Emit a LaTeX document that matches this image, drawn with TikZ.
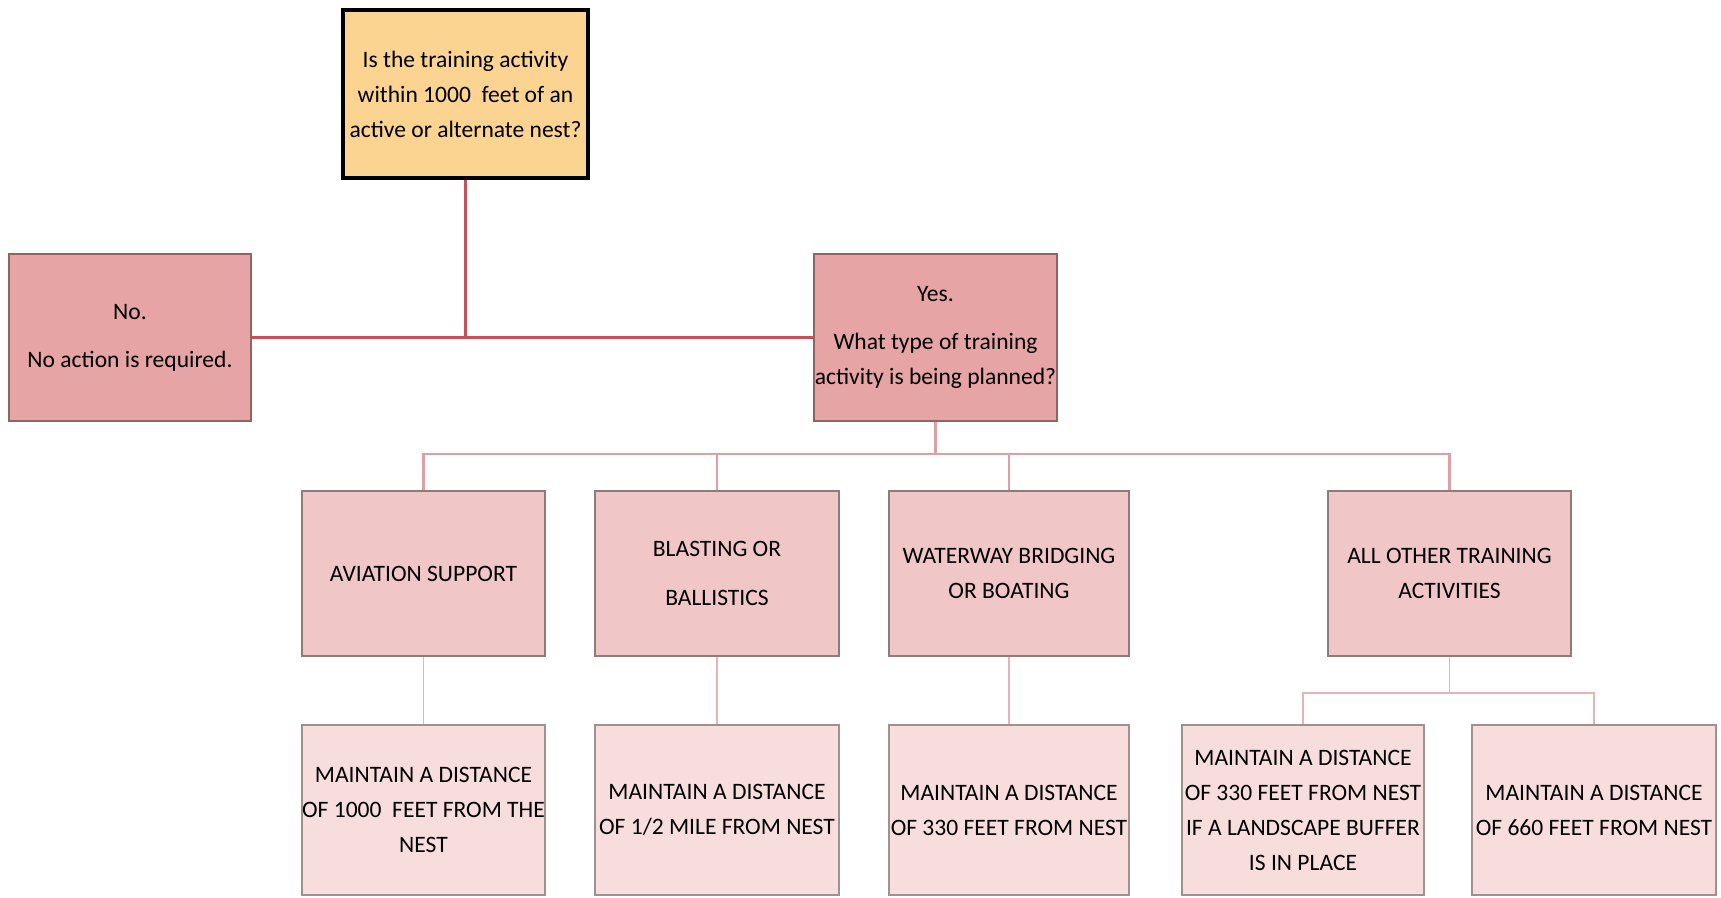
\documentclass[tikz,border=0pt]{standalone}
\usepackage{fontspec}
\setmainfont{Carlito}
\definecolor{askfill}{HTML}{FAD490}
\definecolor{decfill}{HTML}{E6A4A4}
\definecolor{decline}{HTML}{8E6464}
\definecolor{typefill}{HTML}{F1C6C6}
\definecolor{typeline}{HTML}{8E7C7C}
\definecolor{distfill}{HTML}{F8DDDD}
\definecolor{distline}{HTML}{A09090}
\definecolor{linkred}{HTML}{C8505A}
\definecolor{linkpink}{HTML}{DE9EA2}
\definecolor{linklight}{HTML}{E6B4B6}
\begin{document}
\begin{tikzpicture}[x=0.02cm,y=-0.02cm,
  box/.style={draw,inner sep=0pt,align=center,minimum width=243*0.02cm,
    font=\fontsize{13.4}{19.9}\selectfont},
  askbox/.style={box,fill=askfill,draw=black,line width=1.9pt,minimum width=245*0.02cm,minimum height=168*0.02cm},
  decbox/.style={box,fill=decfill,draw=decline,line width=1.1pt,minimum height=167*0.02cm},
  typebox/.style={box,fill=typefill,draw=typeline,line width=0.9pt,minimum height=165*0.02cm},
  distbox/.style={box,fill=distfill,draw=distline,line width=0.9pt,minimum height=170*0.02cm},
  redlink/.style={draw=linkred,line width=1.4pt},
  pinklink/.style={draw=linkpink,line width=1.2pt},
  lightlink/.style={draw=linklight,line width=1.1pt}]
  \useasboundingbox (0,0) rectangle (1721,898);
  \node[askbox] (ask) at (465.5,94) {Is the training activity\\within 1000~ feet of an\\active or alternate nest?};
  \node[decbox,minimum width=242*0.02cm] (no) at (130,337.5) {No.\\[7.5pt]No action is required.};
  \node[decbox] (yes) at (935.5,337.5) {Yes.\\[7.5pt]What type of training\\activity is being planned?};
  \node[typebox] (aviation) at (423.5,573.5) {AVIATION SUPPORT};
  \node[typebox,minimum width=244*0.02cm] (blasting) at (717,573.5) {BLASTING OR\\[7.5pt]BALLISTICS};
  \node[typebox,minimum width=240*0.02cm] (waterway) at (1009,573.5) {WATERWAY BRIDGING\\OR BOATING};
  \node[typebox] (other) at (1449.5,573.5) {ALL OTHER TRAINING\\ACTIVITIES};
  \node[distbox] (dist1000) at (423.5,810) {MAINTAIN A DISTANCE\\OF 1000~ FEET FROM THE\\NEST};
  \node[distbox,minimum width=244*0.02cm] (distmile) at (717,810) {MAINTAIN A DISTANCE\\OF 1/2 MILE FROM NEST};
  \node[distbox,minimum width=240*0.02cm] (dist330) at (1009,810) {MAINTAIN A DISTANCE\\OF 330 FEET FROM NEST};
  \node[distbox,minimum width=242*0.02cm] (distbuffer) at (1303,810) {MAINTAIN A DISTANCE\\OF 330 FEET FROM NEST\\IF A LANDSCAPE BUFFER\\IS IN PLACE};
  \node[distbox,minimum width=244*0.02cm] (dist660) at (1594,810) {MAINTAIN A DISTANCE\\OF 660 FEET FROM NEST};
  \coordinate (typebus) at (935.5,454);
  \coordinate (otherbus) at (1449.5,693);
  \path[redlink] (ask.south) -- (ask.south |- no.east);
  \path[redlink] (no.east) -- (yes.west);
  \path[pinklink] (yes.south) -- (typebus);
  \path[pinklink] (aviation.north) |- (typebus) -| (other.north);
  \path[pinklink] (blasting.north) -- (blasting.north |- typebus);
  \path[pinklink] (waterway.north) -- (waterway.north |- typebus);
  \path[lightlink] (aviation.south) -- (dist1000.north);
  \path[lightlink] (blasting.south) -- (distmile.north);
  \path[lightlink] (waterway.south) -- (dist330.north);
  \path[lightlink] (other.south) -- (otherbus);
  \path[lightlink] (distbuffer.north) |- (otherbus) -| (dist660.north);
\end{tikzpicture}
\end{document}
